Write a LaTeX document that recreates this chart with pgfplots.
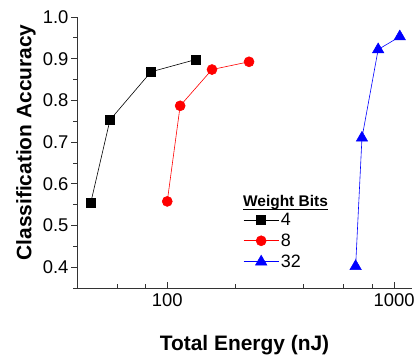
\documentclass[border=0pt]{standalone}
\usepackage{pgfplots}
\pgfplotsset{compat=1.18}
\usepackage{fontspec}
\setmainfont{Liberation Sans}
\begin{document}
\begin{tikzpicture}
\begin{axis}[
  at={(0,0)}, anchor=south west,
  scale only axis, width=335bp, height=271bp,
  xmode=log, xmin=40, xmax=1200,
  ymin=0.35, ymax=1.0,
  axis x line*=bottom, axis y line*=left,
  axis line style={line width=0.8pt, black!80},
  tick align=inside,
  xtick={100,1000}, xticklabels={100,1000},
  minor xtick={60,80,200,400,600,800},
  ytick={0.4,0.5,0.6,0.7,0.8,0.9,1.0},
  minor ytick={0.35,0.45,0.55,0.65,0.75,0.85,0.95},
  major tick length=6bp, minor tick length=4bp,
  tick style={line width=0.8pt, black!80},
  major y tick style={xshift=-6bp},
  minor y tick style={xshift=-4bp},
  yticklabel style={xshift=-5bp, /pgf/number format/fixed, /pgf/number format/fixed zerofill, /pgf/number format/precision=1, /pgf/number format/assume math mode=true},
  ticklabel style={font=\fontsize{18.5}{20}\selectfont},
  xticklabel style={yshift=-2bp},
  xlabel={\textbf{Total Energy (nJ)}},
  ylabel={\textbf{Classification Accuracy}},
  label style={font=\fontsize{21}{24}\selectfont},
  xlabel style={at={(axis description cs:0.5,-0.21)}, anchor=center},
  ylabel style={at={(axis description cs:-0.152,0.537)}, anchor=center},
  legend style={draw=none, fill=none, at={(axis description cs:0.496,0.285)}, anchor=north west,
    font=\fontsize{18}{20}\selectfont, row sep=3bp, inner sep=0pt},
  legend cell align=left,
  legend image code/.code={\draw[mark repeat=2,mark phase=2] plot coordinates {(0bp,0bp)(17.5bp,0bp)(35bp,0bp)};},
  clip=false,
]
\addplot[black, line width=0.6pt, mark=square*, mark size=4.6bp, mark options={solid}] coordinates {
  (46.0,0.5546) (55.9,0.753) (84.8,0.8685) (133.6,0.898)
};
\addlegendentry{4}
\addplot[red, line width=0.6pt, mark=*, mark size=5bp, mark options={solid, fill=red}] coordinates {
  (100,0.5577) (114,0.787) (157.5,0.874) (229.4,0.8926)
};
\addlegendentry{8}
\addplot[blue, line width=0.6pt, mark=triangle*, mark size=6.5bp, mark options={solid, fill=blue}] coordinates {
  (677,0.402) (722,0.71) (851,0.922) (1060,0.953)
};
\addlegendentry{32}
\node[anchor=base west, font=\fontsize{15.5}{18}\selectfont\bfseries, inner sep=0pt] (wbt) at (axis description cs:0.4955,0.30) {Weight Bits};
\draw[line width=0.9pt] ([yshift=-3bp]wbt.base west) -- ([yshift=-3bp]wbt.base east);
\end{axis}
\useasboundingbox (-77bp,-64bp) rectangle (342bp,288bp);
\end{tikzpicture}
\end{document}
